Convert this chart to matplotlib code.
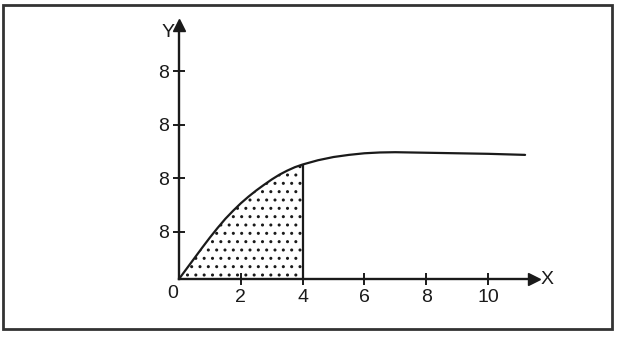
#!/usr/bin/env python3
"""Shaded area under a saturating curve, drawn as a textbook-style sketch."""

import matplotlib

matplotlib.use("Agg")
import matplotlib.pyplot as plt
from matplotlib.patches import Rectangle

# curve (y in tick-spacing units)
curve_x = [0, 0.25, 0.5, 0.75, 1, 1.25, 1.5, 1.75, 2, 2.25, 2.5, 2.75, 3, 3.25, 3.5, 3.75, 4,
           4.5, 5, 5.5, 6, 6.5, 7, 8, 9, 10, 11.2]
curve_y = [0, 0.195, 0.39, 0.585, 0.775, 0.955, 1.125, 1.275, 1.415, 1.54, 1.655, 1.76, 1.86, 1.95, 2.025,
           2.09, 2.14, 2.22, 2.28, 2.32, 2.35, 2.365, 2.37, 2.36, 2.35, 2.34, 2.32]
shade_end = 4
x_ticks = [2, 4, 6, 8, 10]
y_ticks = [0.88, 1.88, 2.88, 3.88]
y_tick_labels = ["8", "8", "8", "8"]

INK = "#1a1a1a"
FONT = ["Liberation Sans", "Arial", "DejaVu Sans"]
LABEL_SIZE = 14

plt.rcParams.update({"font.family": "sans-serif", "font.sans-serif": FONT, "hatch.linewidth": 1.0})

W, H = 617, 338
X0_PX, Y0_PX = 179, 279
X_UNIT, Y_UNIT = 30.9, 53.5


def main() -> None:
    fig = plt.figure(figsize=(W / 100, H / 100), dpi=100)
    ax = fig.add_axes([0, 0, 1, 1])
    ax.set_xlim(-X0_PX / X_UNIT, (W - X0_PX) / X_UNIT)
    ax.set_ylim(-(H - Y0_PX) / Y_UNIT, Y0_PX / Y_UNIT)
    ax.patch.set_alpha(0)

    x_end, y_end = 11.5, 4.75
    for side in ("top", "right"):
        ax.spines[side].set_visible(False)
    for side in ("left", "bottom"):
        ax.spines[side].set_position(("data", 0))
        ax.spines[side].set_linewidth(1.7)
        ax.spines[side].set_color(INK)
    ax.spines["bottom"].set_bounds(0, x_end)
    ax.spines["left"].set_bounds(0, y_end)
    ax.plot(x_end, 0, ">", color=INK, markersize=9, clip_on=False)
    ax.plot(0, y_end, "^", color=INK, markersize=9, clip_on=False)

    ax.set_xticks(x_ticks)
    ax.set_xticklabels([str(t) for t in x_ticks], fontsize=LABEL_SIZE)
    ax.set_yticks(y_ticks)
    ax.set_yticklabels(y_tick_labels, fontsize=LABEL_SIZE)
    ax.tick_params(direction="inout", length=8, width=1.4, color=INK, labelcolor=INK, pad=3)

    # shaded region up to x = 4
    sx = [x for x in curve_x if x <= shade_end]
    sy = curve_y[: len(sx)]
    ax.fill_between(sx, 0, sy, facecolor="none", edgecolor=INK, hatch="..", linewidth=0)
    ax.vlines(shade_end, 0, sy[-1], color=INK, linewidth=1.6)
    ax.plot(curve_x, curve_y, color=INK, linewidth=1.6, solid_capstyle="round", solid_joinstyle="round")

    ax.text(x_end + 0.2, 0, "X", fontsize=LABEL_SIZE, color=INK, ha="left", va="center")
    ax.text(-0.36, 4.6, "Y", fontsize=LABEL_SIZE, color=INK, ha="center", va="center")
    ax.text(-0.2, -0.12, "0", fontsize=LABEL_SIZE, color=INK, ha="center", va="top")

    fig.patches.append(
        Rectangle((3 / W, 9 / H), 609 / W, 324 / H, transform=fig.transFigure,
                  fill=False, edgecolor="#333333", linewidth=2.0)
    )
    fig.savefig("out.png", dpi=100)
    plt.close(fig)


if __name__ == "__main__":
    main()
